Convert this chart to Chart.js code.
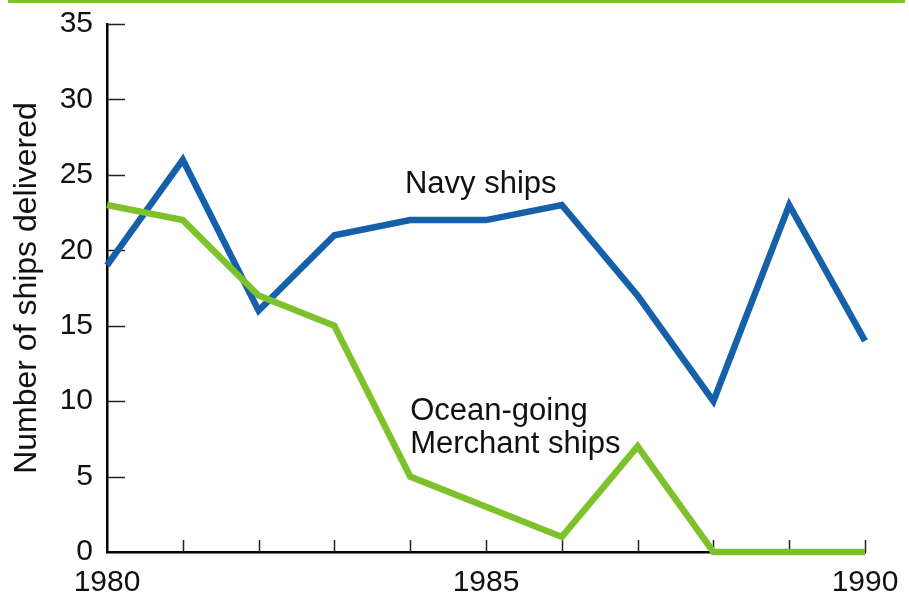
<!DOCTYPE html>
<html>
<head>
<meta charset="utf-8">
<script src="https://cdn.jsdelivr.net/npm/chart.js@4"></script>
<style>
html, body { margin: 0; padding: 0; background: #fff; overflow: hidden; }
#wrap { position: relative; width: 909px; height: 597px; }
#topBar { position: absolute; left: 8px; top: 0; width: 897px; height: 3px; background: #7dc22b; }
</style>
</head>
<body>
<div id="wrap">
  <canvas id="shipChart" width="909" height="597"></canvas>
  <div id="topBar"></div>
</div>
<script>
// Ships delivered per year
const years = ['1980', '1981', '1982', '1983', '1984', '1985', '1986', '1987', '1988', '1989', '1990'];
const navyShips = [19, 26, 16, 21, 22, 22, 23, 17, 10, 23, 14];
const merchantShips = [23, 22, 17, 15, 5, 3, 1, 7, 0, 0, 0];
const labelledYears = ['1980', '1985', '1990'];
const yMax = 35;
const yStep = 5;

const fontFamily = '"Liberation Sans", Arial, Helvetica, sans-serif';
const navyColor = '#1560a9';
const merchantColor = '#7dc22b';

// Inward tick marks, like the printed chart
const innerTicks = {
    id: 'innerTicks',
    beforeDatasetsDraw(chart) {
        const { ctx, chartArea, scales } = chart;
        ctx.save();
        ctx.strokeStyle = '#222';
        ctx.lineWidth = 1.5;
        ctx.beginPath();
        for (let v = yStep; v <= yMax; v += yStep) {
            const y = Math.round(scales.y.getPixelForValue(v)) + 0.5;
            ctx.moveTo(chartArea.left, y);
            ctx.lineTo(chartArea.left + 18, y);
        }
        for (let i = 1; i < years.length; i++) {
            const x = Math.round(scales.x.getPixelForValue(i)) + 0.5;
            ctx.moveTo(x, chartArea.bottom);
            ctx.lineTo(x, chartArea.bottom - 12);
        }
        ctx.stroke();
        ctx.restore();
    }
};

// Series names written next to the lines
const seriesNotes = {
    id: 'seriesNotes',
    afterDatasetsDraw(chart) {
        const { ctx, scales } = chart;
        const notes = [
            { lines: ['Navy ships'], x: 3.93, y: 23.8 },
            { lines: ['Ocean-going', 'Merchant ships'], x: 4.0, y: 8.75 }
        ];
        ctx.save();
        ctx.fillStyle = '#111';
        ctx.font = '31px ' + fontFamily;
        ctx.textAlign = 'left';
        ctx.textBaseline = 'alphabetic';
        notes.forEach(n => {
            const x = scales.x.getPixelForValue(n.x);
            const y = scales.y.getPixelForValue(n.y);
            n.lines.forEach((line, i) => ctx.fillText(line, x, y + i * 33));
        });
        ctx.restore();
    }
};

new Chart(document.getElementById('shipChart'), {
    type: 'line',
    data: {
        labels: years,
        datasets: [
            {
                label: 'Navy ships',
                data: navyShips,
                borderColor: navyColor,
                order: 1,
                clip: false
            },
            {
                label: 'Ocean-going Merchant ships',
                data: merchantShips,
                borderColor: merchantColor,
                order: 0,
                clip: false
            }
        ]
    },
    options: {
        responsive: false,
        animation: false,
        layout: { padding: { top: 24, right: 44, left: 0, bottom: 0 } },
        plugins: {
            legend: { display: false },
            tooltip: { enabled: false }
        },
        elements: {
            point: { radius: 0 },
            line: { borderWidth: 6.5, tension: 0, borderJoinStyle: 'miter', borderCapStyle: 'butt', fill: false }
        },
        scales: {
            x: {
                type: 'category',
                offset: false,
                grid: { display: false, drawTicks: false },
                border: { display: true, color: '#000', width: 2.5 },
                ticks: {
                    autoSkip: false,
                    maxRotation: 0,
                    padding: 13,
                    color: '#111',
                    font: { family: fontFamily, size: 30 },
                    callback: function (value) {
                        const label = this.getLabelForValue(value);
                        return labelledYears.includes(label) ? label : '';
                    }
                },
                afterFit(scale) {
                    scale.height = 45;
                    scale.paddingLeft = 0;
                    scale.paddingRight = 0;
                }
            },
            y: {
                min: 0,
                max: yMax,
                grid: { display: false, drawTicks: false },
                border: { display: true, color: '#000', width: 2.5 },
                ticks: {
                    stepSize: yStep,
                    padding: 14,
                    color: '#111',
                    font: { family: fontFamily, size: 30 }
                },
                title: {
                    display: true,
                    text: 'Number of ships delivered',
                    color: '#111',
                    font: { family: fontFamily, size: 32 },
                    padding: { top: 8, bottom: 0 }
                },
                afterFit(scale) {
                    scale.width = 107;
                    scale.paddingTop = 0;
                    scale.paddingBottom = 0;
                }
            }
        }
    },
    plugins: [innerTicks, seriesNotes]
});
</script>
</body>
</html>
